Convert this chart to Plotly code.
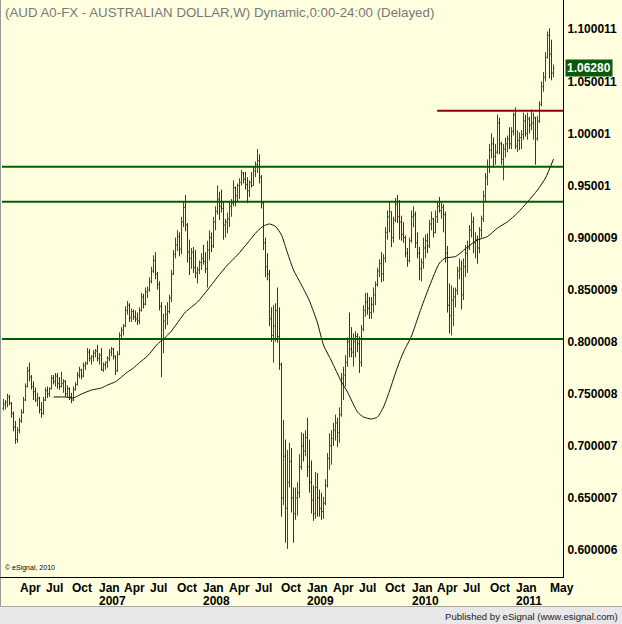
import pandas as pd
import plotly.graph_objects as go

# ---------------- data (weekly AUD bars) ----------------
first_week = "2006-02-06"

opens = [
    .736, .740, .742, .747, .741, .731, .718, .706, .715, .724,
    .732, .744, .757, .772, .766, .757, .752, .744, .746, .735,
    .731, .744, .753, .750, .755, .765, .762, .767, .760, .757,
    .760, .762, .750, .755, .747, .744, .754, .759, .768, .773,
    .767, .777, .779, .790, .784, .786, .789, .791, .784, .787,
    .773, .778, .780, .784, .790, .793, .786, .772, .788, .806,
    .811, .815, .830, .835, .823, .829, .824, .822, .820, .830,
    .843, .836, .848, .850, .858, .868, .878, .865, .855, .834,
    .803, .820, .826, .829, .842, .865, .884, .893, .901, .889,
    .915, .929, .912, .886, .880, .886, .871, .866, .869, .876,
    .880, .877, .870, .888, .900, .892, .915, .925, .937, .930,
    .928, .912, .915, .918, .930, .933, .948, .940, .950, .953,
    .962, .956, .951, .945, .953, .950, .964, .970, .974, .958,
    .933, .895, .872, .865, .822, .806, .815, .830, .805, .778,
    .650, .690, .640, .665, .685, .650, .635, .650, .655, .680,
    .700, .695, .708, .680, .665, .648, .635, .660, .650, .640,
    .637, .645, .662, .688, .700, .707, .715, .722, .713, .730,
    .765, .768, .780, .800, .793, .790, .800, .805, .798, .780,
    .812, .830, .838, .832, .828, .836, .845, .855, .868, .875,
    .865, .880, .905, .920, .925, .900, .917, .932, .920, .915,
    .903, .900, .885, .878, .897, .920, .922, .895, .885, .870,
    .876, .890, .897, .892, .913, .918, .905, .920, .930, .926,
    .929, .922, .885, .835, .825, .840, .843, .849, .868, .870,
    .845, .872, .885, .890, .907, .915, .895, .898, .890, .907,
    .918, .940, .958, .968, .984, .990, .978, .982, 1.010, .990,
    .975, .985, .990, .995, .990, 1.002, 1.018, .988, .993, .996,
    .999, 1.012, 1.000, 1.014, 1.008, 1.010, 1.015, .995, 1.012, 1.028,
    1.045, 1.054, 1.073, 1.094, 1.076, 1.058,
]
highs = [
    .745, .744, .750, .749, .742, .733, .724, .718, .727, .735,
    .747, .760, .776, .780, .768, .762, .756, .751, .747, .742,
    .747, .756, .757, .756, .768, .768, .770, .770, .766, .771,
    .764, .763, .758, .756, .751, .757, .761, .771, .776, .774,
    .780, .781, .794, .793, .787, .792, .793, .797, .789, .794,
    .780, .781, .786, .793, .795, .794, .787, .791, .809, .814,
    .817, .834, .839, .837, .832, .831, .830, .828, .833, .847,
    .846, .852, .853, .862, .872, .883, .886, .867, .858, .838,
    .827, .835, .838, .845, .869, .888, .900, .907, .905, .920,
    .934, .941, .914, .898, .890, .891, .888, .872, .878, .885,
    .893, .886, .897, .907, .905, .920, .930, .950, .944, .946,
    .935, .918, .924, .934, .937, .955, .949, .952, .957, .965,
    .963, .963, .958, .955, .963, .968, .973, .985, .980, .960,
    .935, .900, .885, .869, .833, .835, .837, .852, .833, .780,
    .725, .706, .696, .703, .698, .660, .660, .665, .692, .713,
    .712, .715, .727, .706, .686, .662, .675, .674, .658, .655,
    .651, .668, .693, .712, .715, .722, .730, .727, .737, .770,
    .776, .787, .804, .828, .814, .808, .810, .808, .805, .816,
    .835, .847, .847, .843, .843, .852, .858, .871, .879, .886,
    .884, .910, .926, .934, .925, .920, .938, .941, .936, .921,
    .915, .902, .890, .900, .926, .930, .925, .905, .891, .880,
    .900, .903, .904, .917, .925, .919, .926, .934, .939, .934,
    .932, .925, .892, .856, .854, .852, .852, .872, .880, .878,
    .880, .893, .897, .912, .924, .920, .905, .902, .910, .921,
    .945, .962, .975, .990, 1.000, .996, .990, 1.018, 1.015, .992,
    .990, .996, .998, 1.006, 1.006, 1.020, 1.025, 1.003, 1.001, 1.003,
    1.020, 1.018, 1.020, 1.016, 1.023, 1.020, 1.016, 1.017, 1.031, 1.050,
    1.059, 1.078, 1.098, 1.101, 1.090, 1.066,
]
lows = [
    .734, .735, .737, .739, .727, .714, .702, .703, .712, .722,
    .731, .743, .756, .762, .754, .744, .742, .738, .731, .727,
    .730, .743, .746, .747, .754, .759, .757, .755, .754, .756,
    .751, .747, .747, .744, .741, .743, .753, .758, .765, .764,
    .766, .773, .778, .781, .778, .781, .785, .781, .778, .772,
    .771, .773, .775, .781, .786, .783, .768, .771, .787, .803,
    .806, .814, .826, .819, .819, .821, .819, .816, .817, .829,
    .832, .835, .842, .848, .856, .866, .860, .850, .830, .766,
    .789, .812, .816, .827, .838, .864, .880, .887, .882, .884,
    .910, .906, .876, .864, .870, .866, .861, .856, .865, .869,
    .874, .866, .852, .878, .886, .890, .907, .922, .917, .924,
    .898, .900, .904, .910, .920, .930, .930, .935, .937, .950,
    .952, .946, .933, .939, .948, .950, .958, .962, .952, .928,
    .888, .862, .859, .815, .800, .780, .800, .799, .773, .632,
    .643, .607, .601, .660, .636, .607, .629, .633, .650, .677,
    .685, .690, .670, .655, .635, .628, .630, .632, .632, .629,
    .630, .643, .660, .677, .682, .700, .705, .699, .703, .728,
    .744, .757, .776, .785, .785, .776, .785, .790, .770, .776,
    .810, .824, .826, .822, .822, .828, .835, .853, .862, .857,
    .858, .876, .898, .905, .891, .895, .915, .914, .898, .897,
    .895, .881, .872, .876, .895, .910, .890, .880, .859, .858,
    .870, .880, .885, .890, .907, .900, .904, .914, .924, .918,
    .905, .876, .828, .808, .806, .815, .833, .845, .860, .831,
    .840, .862, .866, .888, .900, .885, .880, .875, .885, .900,
    .915, .935, .950, .962, .976, .967, .970, .980, .980, .970,
    .955, .977, .982, .985, .985, .998, .985, .982, .984, .985,
    .994, .997, .994, 1.000, 1.003, .994, .970, .993, 1.010, 1.026,
    1.040, 1.050, 1.072, 1.053, 1.051, 1.054,
]
closes = [
    .740, .742, .747, .741, .731, .718, .706, .715, .724, .732,
    .744, .757, .772, .766, .757, .752, .744, .746, .735, .731,
    .744, .753, .750, .755, .765, .762, .767, .760, .757, .760,
    .762, .750, .755, .747, .744, .754, .759, .768, .773, .767,
    .777, .779, .790, .784, .786, .789, .791, .784, .787, .773,
    .778, .780, .784, .790, .793, .786, .772, .788, .806, .811,
    .815, .830, .835, .823, .829, .824, .822, .820, .830, .843,
    .836, .848, .850, .858, .868, .878, .865, .855, .834, .803,
    .820, .826, .829, .842, .865, .884, .893, .901, .889, .915,
    .929, .912, .886, .880, .886, .871, .866, .869, .876, .880,
    .877, .870, .888, .900, .892, .915, .925, .937, .930, .928,
    .912, .915, .918, .930, .933, .948, .940, .950, .953, .962,
    .956, .951, .945, .953, .950, .964, .970, .974, .958, .933,
    .895, .872, .865, .822, .806, .815, .830, .805, .778, .650,
    .690, .640, .665, .685, .650, .635, .650, .655, .680, .700,
    .695, .708, .680, .665, .648, .635, .660, .650, .640, .637,
    .645, .662, .688, .700, .707, .715, .722, .713, .730, .765,
    .768, .780, .800, .793, .790, .800, .805, .798, .780, .812,
    .830, .838, .832, .828, .836, .845, .855, .868, .875, .865,
    .880, .905, .920, .925, .900, .917, .932, .920, .915, .903,
    .900, .885, .878, .897, .920, .922, .895, .885, .870, .876,
    .890, .897, .892, .913, .918, .905, .920, .930, .926, .929,
    .922, .885, .835, .825, .840, .843, .849, .868, .870, .845,
    .872, .885, .890, .907, .915, .895, .898, .890, .907, .918,
    .940, .958, .968, .984, .990, .978, .982, 1.010, .990, .975,
    .985, .990, .995, .990, 1.002, 1.018, .988, .993, .996, .999,
    1.012, 1.000, 1.014, 1.008, 1.010, 1.015, .995, 1.012, 1.028, 1.045,
    1.054, 1.073, 1.094, 1.076, 1.058, 1.0628,
]

# moving average line (week number, value)
ma_weeks = [25, 31, 35, 39, 44, 49, 52, 56, 59, 62,
            65, 68, 72, 77, 80, 84, 88, 91, 97, 102,
            107, 112, 117, 122, 127, 130, 133, 136, 139, 142,
            145, 149, 153, 157, 160, 164, 169, 172, 177, 180,
            184, 187, 190, 193, 197, 200, 204, 208, 213, 218,
            221, 226, 232, 237, 242, 247, 252, 257, 262, 267,
            271, 275]
ma_values = [.7469, .7469, .7460, .7498, .7536, .7556, .7584, .7616, .7661, .7709,
             .7748, .7800, .7863, .7978, .8026, .8103, .8209, .8285, .8381, .8497,
             .8621, .8737, .8833, .8948, .9063, .9111, .9131, .9107, .9025, .8852,
             .8689, .8545, .8391, .8180, .7968, .7815, .7613, .7517, .7325, .7277,
             .7258, .7277, .7373, .7527, .7757, .7901, .8055, .8276, .8535, .8756,
             .8804, .8818, .8910, .8977, .9010, .9092, .9152, .9236, .9342, .9457,
             .9572, .9754]

support_levels = [0.968, 0.9345, 0.8026]
resistance_level = 1.0219
resistance_start = "2010-04-04"
last_price = 1.0628
last_price_text = "1.06280"

y_tick_values = [0.600006, 0.650007, 0.700007, 0.750008, 0.800008, 0.850009,
                 0.900009, 0.95001, 1.00001, 1.050011, 1.100011]
y_tick_labels = ["0.600006", "0.650007", "0.700007", "0.750008", "0.800008", "0.850009",
                 "0.900009", "0.95001", "1.00001", "1.050011", "1.100011"]

month_label_dates = ["2006-04-01", "2006-07-01", "2006-10-01",
                     "2007-01-01", "2007-04-01", "2007-07-01", "2007-10-01",
                     "2008-01-01", "2008-04-01", "2008-07-01", "2008-10-01",
                     "2009-01-01", "2009-04-01", "2009-07-01", "2009-10-01",
                     "2010-01-01", "2010-04-01", "2010-07-01", "2010-10-01",
                     "2011-01-01", "2011-05-01"]
month_labels = ["Apr", "Jul", "Oct", "Jan", "Apr", "Jul", "Oct", "Jan", "Apr", "Jul", "Oct",
                "Jan", "Apr", "Jul", "Oct", "Jan", "Apr", "Jul", "Oct", "Jan", "May"]
year_label_dates = ["2007-01-01", "2008-01-01", "2009-01-01", "2010-01-01", "2011-01-01"]
year_labels = ["2007", "2008", "2009", "2010", "2011"]

title_text = "(AUD A0-FX - AUSTRALIAN DOLLAR,W) Dynamic,0:00-24:00 (Delayed)"
copyright_text = "© eSignal, 2010"
footer_text = "Published by eSignal (www.esignal.com)"

# ---------------- styling ----------------
W, H = 622, 624
ML, MR, MT, MB = 2, 59, 0, 47
PW, PH = W - ML - MR, H - MT - MB
BG = "#FFFFE0"
GREEN_BAR = "#007000"
RED_BAR = "#A80000"
GREEN_LINE = "#005C00"
RED_LINE = "#8E0000"
FONT = "Liberation Sans, Arial, sans-serif"

X_RANGE = ["2006-01-31 18:00", "2011-06-18 06:00"]
Y_RANGE = [0.6 - 27 / 1041.4, 0.6 + 550 / 1041.4]


def px(x):
    return (x - ML) / PW


def py(y):
    return (MT + PH - y) / PH


dates = pd.date_range(first_week, periods=len(closes), freq="7D")
ma_dates = [dates[i] for i in ma_weeks]

fig = go.Figure()
fig.add_trace(go.Ohlc(
    x=dates, open=opens, high=highs, low=lows, close=closes,
    increasing=dict(line=dict(color=GREEN_BAR, width=1)),
    decreasing=dict(line=dict(color=RED_BAR, width=1)),
    tickwidth=0.5, hoverinfo="skip", showlegend=False,
))
fig.add_trace(go.Scatter(
    x=ma_dates, y=ma_values, mode="lines",
    line=dict(color="#111111", width=1, shape="spline", smoothing=0.6),
    hoverinfo="skip", showlegend=False,
))

shapes = []
for lvl in support_levels:
    shapes.append(dict(type="line", xref="paper", yref="y", x0=0, x1=1, y0=lvl, y1=lvl,
                       line=dict(color=GREEN_LINE, width=2)))
shapes.append(dict(type="line", xref="x", yref="y", x0=resistance_start, x1=X_RANGE[1],
                   y0=resistance_level, y1=resistance_level,
                   line=dict(color=RED_LINE, width=2)))
# left frame line and bottom line extension
shapes.append(dict(type="line", xref="paper", yref="paper", x0=px(0.5), x1=px(0.5),
                   y0=py(0), y1=py(606), line=dict(color="#9A9A9A", width=1)))
shapes.append(dict(type="line", xref="paper", yref="paper", x0=px(0), x1=px(3),
                   y0=py(577.5), y1=py(577.5), line=dict(color="black", width=1)))
# footer bar
shapes.append(dict(type="rect", xref="paper", yref="paper", x0=px(0), x1=px(W),
                   y0=py(607), y1=py(H), fillcolor="#E8E8E8", line=dict(width=0)))
shapes.append(dict(type="line", xref="paper", yref="paper", x0=px(0), x1=px(W),
                   y0=py(606.5), y1=py(606.5), line=dict(color="#A8A8A8", width=1)))

annotations = []
annotations.append(dict(text=title_text, xref="paper", yref="paper", x=px(3), y=py(12),
                        xanchor="left", yanchor="middle", showarrow=False,
                        font=dict(family=FONT, size=13.3, color="#787878")))
annotations.append(dict(text=copyright_text, xref="paper", yref="paper", x=px(3), y=py(568),
                        xanchor="left", yanchor="middle", showarrow=False,
                        font=dict(family=FONT, size=7, color="#000000")))
annotations.append(dict(text=footer_text, xref="paper", yref="paper", x=px(620), y=py(616),
                        xanchor="right", yanchor="middle", showarrow=False,
                        font=dict(family=FONT, size=9.6, color="#222222")))
for d, t in zip(month_label_dates, month_labels):
    annotations.append(dict(text="<b>" + t + "</b>", xref="x", yref="paper", x=d, y=py(588),
                            xanchor="left", yanchor="middle", showarrow=False, xshift=-1,
                            font=dict(family=FONT, size=12, color="#000000")))
for d, t in zip(year_label_dates, year_labels):
    annotations.append(dict(text="<b>" + t + "</b>", xref="x", yref="paper", x=d, y=py(601),
                            xanchor="left", yanchor="middle", showarrow=False, xshift=-1,
                            font=dict(family=FONT, size=12, color="#000000")))
annotations.append(dict(text="<b>" + last_price_text + "</b>", xref="paper", yref="y",
                        x=1, y=last_price, xanchor="left", yanchor="middle", xshift=2,
                        showarrow=False, bgcolor="#0B5A0B", borderpad=1,
                        font=dict(family=FONT, size=12, color="#FFFFFF")))

fig.update_layout(
    width=W, height=H,
    margin=dict(l=ML, r=MR, t=MT, b=MB, pad=0),
    paper_bgcolor=BG, plot_bgcolor=BG,
    showlegend=False,
    shapes=shapes, annotations=annotations,
    xaxis=dict(type="date", range=X_RANGE, showticklabels=False, showgrid=False,
               zeroline=False, showline=True, linecolor="black", linewidth=1,
               ticks="", rangeslider=dict(visible=False), fixedrange=True),
    yaxis=dict(range=Y_RANGE, side="right", tickvals=y_tick_values,
               ticktext=["<b>" + t + "</b>" for t in y_tick_labels],
               tickfont=dict(family=FONT, size=12, color="#000000"),
               showgrid=False, zeroline=False, showline=True, linecolor="black",
               linewidth=1, ticks="outside", ticklen=1, tickcolor=BG, fixedrange=True),
)

fig.write_html("out.html")
